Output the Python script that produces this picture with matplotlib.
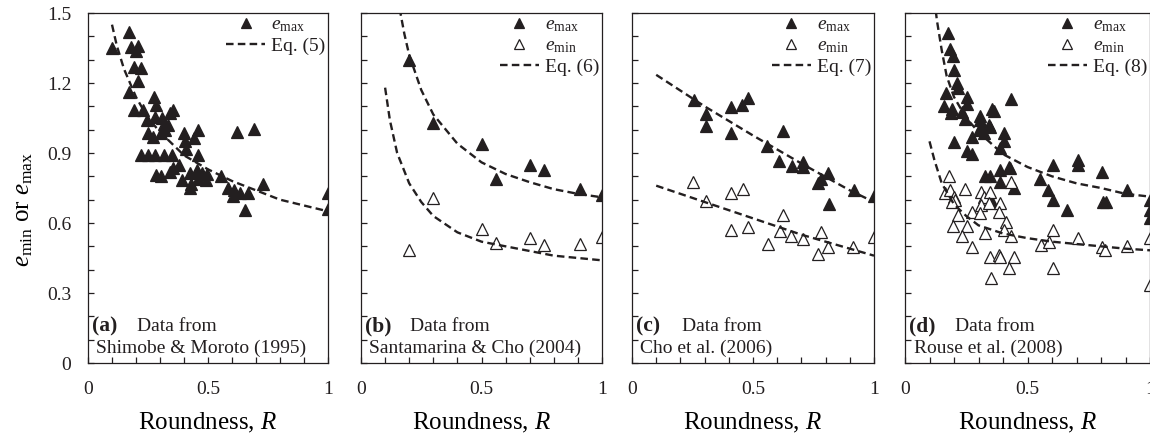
import matplotlib
matplotlib.use('Agg')
import matplotlib.pyplot as plt
from matplotlib.lines import Line2D
from matplotlib.ticker import MultipleLocator, FuncFormatter

plt.rcParams['font.family'] = ['Liberation Serif', 'DejaVu Serif']
plt.rcParams['mathtext.fontset'] = 'custom'
plt.rcParams['mathtext.rm'] = 'Liberation Serif'
plt.rcParams['mathtext.it'] = 'Liberation Serif:italic'
plt.rcParams['text.color'] = '#231f20'

# (a) Shimobe & Moroto (1995)
r_a = [0.10, 0.17, 0.18, 0.20, 0.21, 0.19, 0.22, 0.21, 0.17, 0.19, 0.23, 0.245, 0.275, 0.285,
       0.28, 0.31, 0.34, 0.355, 0.25, 0.27, 0.305, 0.32, 0.335, 0.315, 0.40, 0.46, 0.44, 0.405,
       0.41, 0.46, 0.22, 0.25, 0.28, 0.315, 0.35, 0.285, 0.305, 0.34, 0.355, 0.38, 0.425, 0.455,
       0.475, 0.495, 0.39, 0.43, 0.425, 0.46, 0.49, 0.555, 0.585, 0.61, 0.605, 0.635, 0.665,
       0.655, 0.73, 0.62, 0.69, 1.0, 1.0]
emax_a = [1.35, 1.42, 1.355, 1.335, 1.36, 1.27, 1.265, 1.21, 1.16, 1.085, 1.085, 1.04, 1.14, 1.105,
          1.055, 1.05, 1.07, 1.085, 0.985, 0.97, 0.985, 1.0, 1.02, 1.025, 0.985, 1.0, 0.965, 0.95,
          0.915, 0.89, 0.89, 0.89, 0.89, 0.89, 0.89, 0.805, 0.80, 0.82, 0.835, 0.85, 0.815, 0.825,
          0.815, 0.81, 0.785, 0.765, 0.75, 0.79, 0.785, 0.80, 0.75, 0.74, 0.715, 0.73, 0.73,
          0.655, 0.765, 0.99, 1.005, 0.73, 0.66]
eq5_r = [0.10, 0.12, 0.15, 0.20, 0.25, 0.30, 0.40, 0.50, 0.60, 0.70, 0.80, 0.90, 1.00]
eq5_e = [1.45, 1.36, 1.26, 1.14, 1.05, 0.99, 0.89, 0.83, 0.78, 0.74, 0.70, 0.675, 0.65]

# (b) Santamarina & Cho (2004)
r_b = [0.2, 0.3, 0.5, 0.56, 0.7, 0.76, 0.91, 1.0]
emax_b = [1.30, 1.03, 0.94, 0.79, 0.85, 0.825, 0.745, 0.72]
emin_b = [0.485, 0.705, 0.575, 0.515, 0.535, 0.505, 0.51, 0.54]
eq6_rmax = [0.16, 0.18, 0.20, 0.25, 0.30, 0.40, 0.50, 0.60, 0.70, 0.80, 0.90, 1.00]
eq6_emax = [1.52, 1.41, 1.32, 1.17, 1.065, 0.94, 0.86, 0.81, 0.775, 0.745, 0.725, 0.71]
eq6_rmin = [0.10, 0.12, 0.15, 0.20, 0.25, 0.30, 0.40, 0.50, 0.60, 0.70, 0.80, 0.90, 1.00]
eq6_emin = [1.18, 1.04, 0.90, 0.77, 0.69, 0.63, 0.56, 0.52, 0.50, 0.48, 0.46, 0.45, 0.44]

# (c) Cho et al. (2006)
r_c_max = [0.255, 0.305, 0.305, 0.41, 0.41, 0.455, 0.48, 0.557, 0.625, 0.607, 0.66, 0.705,
           0.707, 0.77, 0.78, 0.81, 0.815, 0.918, 1.0]
emax_c = [1.125, 1.065, 1.015, 1.095, 0.985, 1.105, 1.135, 0.93, 0.995, 0.865, 0.845, 0.86,
          0.84, 0.77, 0.79, 0.815, 0.68, 0.74, 0.715]
r_c_min = [0.253, 0.304, 0.408, 0.457, 0.408, 0.478, 0.561, 0.624, 0.61, 0.658, 0.707, 0.779,
           0.77, 0.811, 0.915, 1.0]
emin_c = [0.775, 0.695, 0.727, 0.746, 0.57, 0.584, 0.509, 0.634, 0.567, 0.546, 0.531, 0.56,
          0.467, 0.498, 0.498, 0.539]
eq7_r = [0.1, 0.3, 0.5, 0.7, 0.9, 1.0]
eq7_emax = [1.235, 1.10, 0.975, 0.855, 0.74, 0.69]
eq7_emin = [0.76, 0.69, 0.62, 0.55, 0.49, 0.46]

# (d) Rouse et al. (2008)
r_d_max = [0.175, 0.185, 0.195, 0.198, 0.212, 0.215, 0.168, 0.16, 0.19, 0.187, 0.253, 0.253,
           0.232, 0.243, 0.355, 0.362, 0.433, 0.305, 0.307, 0.314, 0.30, 0.321, 0.342, 0.348,
           0.273, 0.403, 0.406, 0.389, 0.202, 0.253, 0.273, 0.389, 0.423, 0.43, 0.328, 0.348,
           0.387, 0.444, 0.355, 0.553, 0.585, 0.605, 0.605, 0.662, 0.707, 0.707, 0.806, 0.81,
           0.82, 0.907, 1.0, 1.0, 1.0]
emax_d = [1.415, 1.345, 1.315, 1.255, 1.20, 1.18, 1.155, 1.10, 1.09, 1.07, 1.14, 1.11,
          1.075, 1.045, 1.09, 1.08, 1.13, 1.06, 1.04, 1.02, 1.0, 0.985, 1.02, 1.01,
          0.97, 0.985, 0.95, 0.92, 0.945, 0.91, 0.895, 0.825, 0.84, 0.835, 0.80, 0.80,
          0.777, 0.75, 0.69, 0.79, 0.742, 0.70, 0.85, 0.656, 0.87, 0.85, 0.82, 0.69,
          0.69, 0.74, 0.70, 0.656, 0.62]
r_d_min = [0.178, 0.164, 0.184, 0.198, 0.205, 0.191, 0.243, 0.216, 0.194, 0.253, 0.232, 0.273,
           0.311, 0.321, 0.346, 0.311, 0.305, 0.342, 0.389, 0.382, 0.414, 0.403, 0.433, 0.325,
           0.273, 0.346, 0.382, 0.389, 0.444, 0.423, 0.352, 0.434, 0.556, 0.588, 0.605, 0.707,
           0.806, 0.817, 0.906, 0.605, 1.0, 1.0]
emin_d = [0.80, 0.727, 0.742, 0.713, 0.70, 0.69, 0.745, 0.634, 0.587, 0.587, 0.544, 0.648,
          0.734, 0.713, 0.734, 0.677, 0.642, 0.684, 0.684, 0.648, 0.606, 0.57, 0.544, 0.558,
          0.499, 0.453, 0.463, 0.456, 0.456, 0.406, 0.366, 0.777, 0.506, 0.52, 0.57, 0.534,
          0.499, 0.484, 0.501, 0.406, 0.534, 0.334]
eq8_rmax = [0.12, 0.13, 0.15, 0.17, 0.20, 0.25, 0.30, 0.40, 0.50, 0.60, 0.70, 0.80, 0.90, 1.00]
eq8_emax = [1.56, 1.47, 1.34, 1.23, 1.14, 1.05, 0.99, 0.895, 0.84, 0.80, 0.77, 0.75, 0.725, 0.713]
eq8_rmin = [0.10, 0.12, 0.15, 0.20, 0.25, 0.30, 0.40, 0.50, 0.60, 0.70, 0.80, 0.90, 1.00]
eq8_emin = [0.95, 0.87, 0.77, 0.68, 0.63, 0.59, 0.555, 0.535, 0.52, 0.51, 0.50, 0.49, 0.483]

panel_tags = ['(a)', '(b)', '(c)', '(d)']
sources = ['Shimobe & Moroto (1995)', 'Santamarina & Cho (2004)',
           'Cho et al. (2006)', 'Rouse et al. (2008)']
eq_labels = ['Eq. (5)', 'Eq. (6)', 'Eq. (7)', 'Eq. (8)']

W, H = 1150, 436
fig = plt.figure(figsize=(W / 100, H / 100), dpi=100)
lefts = [88, 361, 632, 905]
widths = [240, 241, 242, 245]
axes = [fig.add_axes([l / W, (H - 363) / H, w / W, 350 / H]) for l, w in zip(lefts, widths)]

ink = '#231f20'
tri_kw = dict(ls='none', marker='^', ms=8.8, mec=ink, mew=0.9)
dash_kw = dict(color=ink, lw=1.7, ls=(0, (3.2, 1.8)))

ax = axes[0]
ax.plot(r_a, emax_a, mfc=ink, **tri_kw)
ax.plot(eq5_r, eq5_e, **dash_kw)

ax = axes[1]
ax.plot(r_b, emax_b, mfc=ink, **tri_kw)
ax.plot(r_b, emin_b, mfc='white', **tri_kw)
ax.plot(eq6_rmax, eq6_emax, **dash_kw)
ax.plot(eq6_rmin, eq6_emin, **dash_kw)

ax = axes[2]
ax.plot(r_c_max, emax_c, mfc=ink, **tri_kw)
ax.plot(r_c_min, emin_c, mfc='white', **tri_kw)
ax.plot(eq7_r, eq7_emax, **dash_kw)
ax.plot(eq7_r, eq7_emin, **dash_kw)

ax = axes[3]
ax.plot(r_d_max, emax_d, mfc=ink, **tri_kw)
ax.plot(r_d_min, emin_d, mfc='white', **tri_kw)
ax.plot(eq8_rmax, eq8_emax, **dash_kw)
ax.plot(eq8_rmin, eq8_emin, **dash_kw)

fmt = FuncFormatter(lambda v, p: f'{v:g}')
for i, ax in enumerate(axes):
    ax.set_xlim(0, 1)
    ax.set_ylim(0, 1.5)
    ax.xaxis.set_major_locator(MultipleLocator(0.5))
    ax.xaxis.set_minor_locator(MultipleLocator(0.1))
    ax.yaxis.set_major_locator(MultipleLocator(0.3))
    ax.yaxis.set_minor_locator(MultipleLocator(0.1))
    ax.xaxis.set_major_formatter(fmt)
    ax.yaxis.set_major_formatter(fmt)
    ax.tick_params(which='both', direction='in', length=4, width=0.9, color=ink,
                   labelsize=14, labelcolor=ink)
    ax.tick_params(axis='x', pad=13)
    ax.tick_params(axis='y', pad=12)
    if i > 0:
        ax.tick_params(axis='y', labelleft=False)
    for s in ax.spines.values():
        s.set_linewidth(0.9)
        s.set_color(ink)
    ax.set_xlabel('Roundness, $R$', fontsize=18, labelpad=9)

    ax.text(0.015, 0.103, panel_tags[i], transform=ax.transAxes, fontsize=15.5,
            fontweight='bold', va='center', ha='left')
    ax.text(0.205, 0.103, 'Data from', transform=ax.transAxes, fontsize=14,
            va='center', ha='left')
    ax.text(0.035, 0.043, sources[i], transform=ax.transAxes, fontsize=14,
            va='center', ha='left')

    handles = [Line2D([], [], mfc=ink, **tri_kw)]
    labels = [r'$e_{\mathrm{max}}$']
    if i > 0:
        handles.append(Line2D([], [], mfc='white', **tri_kw))
        labels.append(r'$e_{\mathrm{min}}$')
    handles.append(Line2D([], [], **dash_kw))
    labels.append(eq_labels[i])
    ax.legend(handles, labels, loc='upper right', frameon=False, fontsize=14,
              handlelength=2.0, handletextpad=0.3, labelspacing=0.15,
              borderaxespad=0.15, borderpad=0.0, markerscale=0.8)

axes[0].set_ylabel(r'$e_{\mathrm{min}}$ or $e_{\mathrm{max}}$', fontsize=18)
axes[0].yaxis.set_label_coords(-0.22, 0.44)

fig.savefig('out.png', dpi=100)
